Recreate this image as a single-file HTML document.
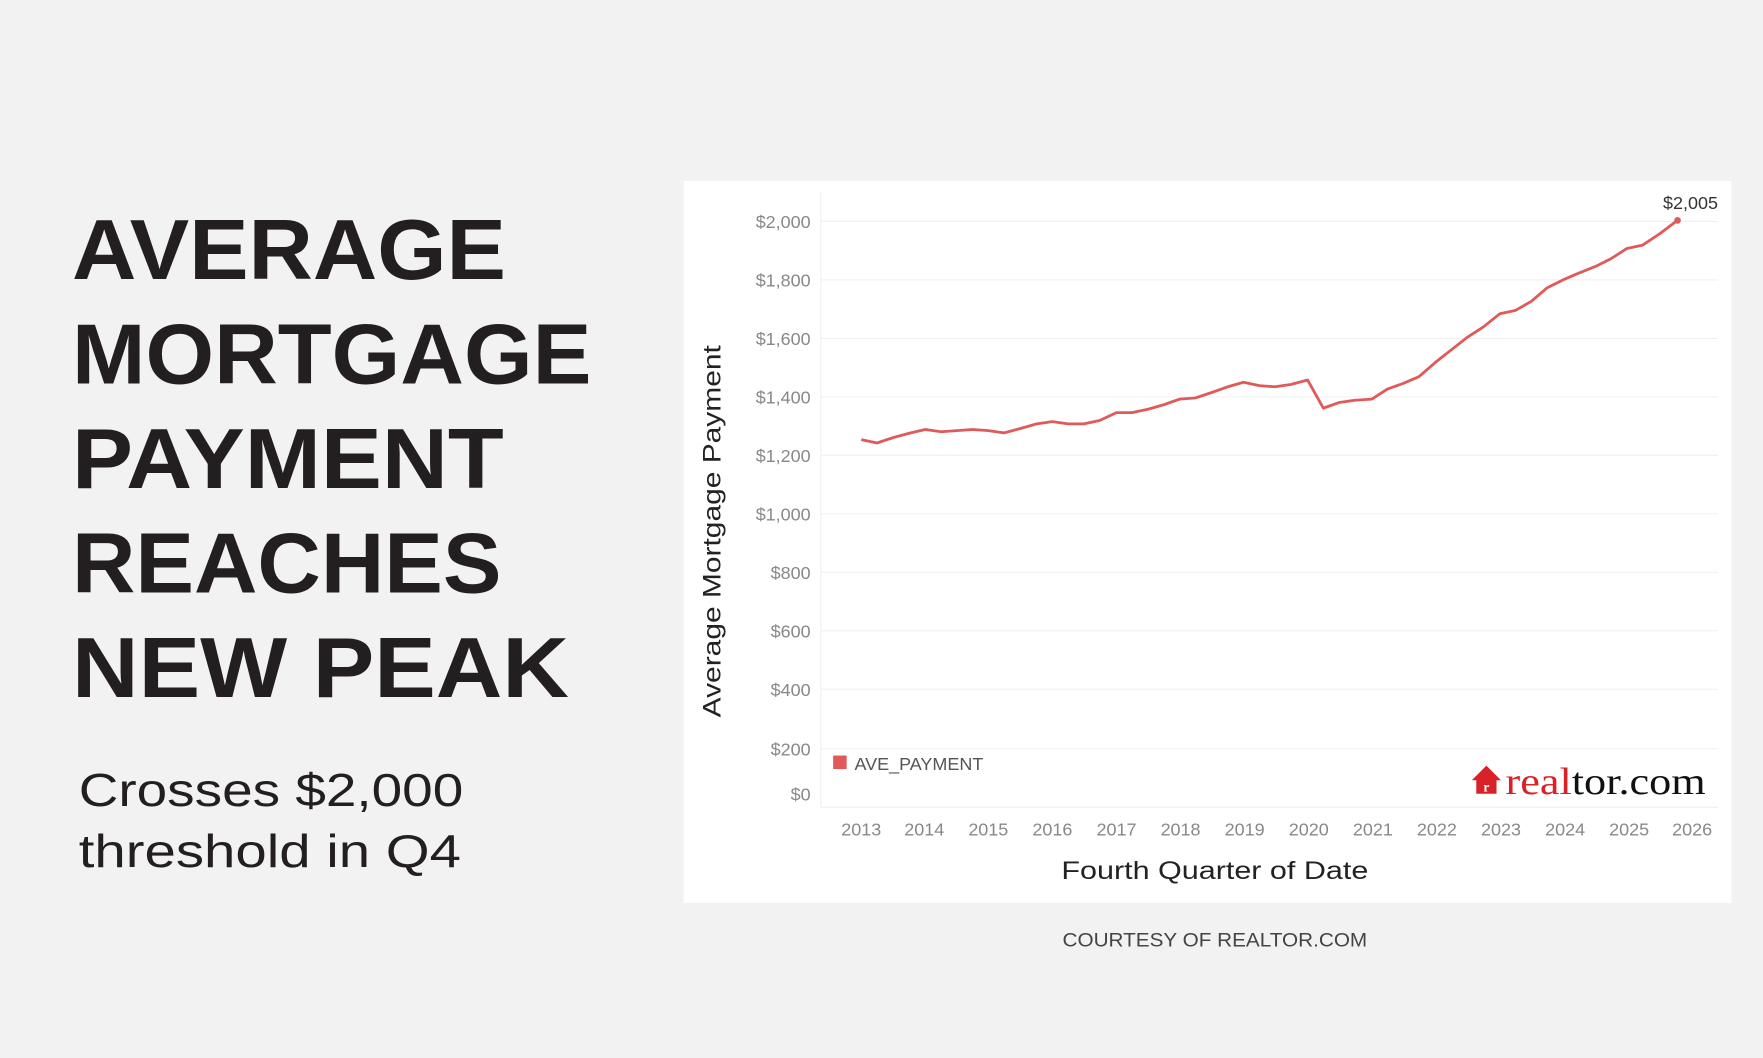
<!DOCTYPE html>
<html><head><style>
html,body{margin:0;padding:0;background:#f2f2f2;}
svg{display:block}
</style></head><body>
<svg width="1763" height="1058" viewBox="0 0 1568 941" xmlns="http://www.w3.org/2000/svg">
<rect width="1568" height="941" fill="#f2f2f2"/>
<g font-family="Liberation Sans, sans-serif" font-weight="bold" font-size="76" fill="#231f20">
<text x="64" y="248" textLength="386" lengthAdjust="spacingAndGlyphs">AVERAGE</text>
<text x="64" y="341" textLength="462" lengthAdjust="spacingAndGlyphs">MORTGAGE</text>
<text x="64" y="434" textLength="384" lengthAdjust="spacingAndGlyphs">PAYMENT</text>
<text x="64" y="527" textLength="382" lengthAdjust="spacingAndGlyphs">REACHES</text>
<text x="64" y="620" textLength="442" lengthAdjust="spacingAndGlyphs">NEW PEAK</text>
</g>
<g font-family="Liberation Sans, sans-serif" font-size="41" fill="#231f20">
<text x="70" y="717" textLength="342" lengthAdjust="spacingAndGlyphs">Crosses $2,000</text>
<text x="70" y="771" textLength="340" lengthAdjust="spacingAndGlyphs">threshold in Q4</text>
</g>
<rect x="608" y="161" width="932" height="642" fill="#fff"/>
<g stroke="#f0f0f0" stroke-width="1">
<line x1="730" x2="1528" y1="197" y2="197"/><line x1="730" x2="1528" y1="249" y2="249"/>
<line x1="730" x2="1528" y1="301" y2="301"/><line x1="730" x2="1528" y1="353" y2="353"/>
<line x1="730" x2="1528" y1="405" y2="405"/><line x1="730" x2="1528" y1="457" y2="457"/>
<line x1="730" x2="1528" y1="509" y2="509"/><line x1="730" x2="1528" y1="561" y2="561"/>
<line x1="730" x2="1528" y1="613" y2="613"/><line x1="730" x2="1528" y1="666" y2="666"/>
<line x1="730" x2="1528" y1="718" y2="718"/>
<line x1="730" x2="730" y1="170" y2="718"/>
</g>
<g font-family="Liberation Sans, sans-serif" font-size="16" fill="#888" text-anchor="end">
<text x="721" y="203">$2,000</text><text x="721" y="255">$1,800</text><text x="721" y="307">$1,600</text>
<text x="721" y="359">$1,400</text><text x="721" y="411">$1,200</text><text x="721" y="463">$1,000</text>
<text x="721" y="515">$800</text><text x="721" y="567">$600</text><text x="721" y="619">$400</text>
<text x="721" y="672">$200</text><text x="721" y="712">$0</text>
</g>
<g font-family="Liberation Sans, sans-serif" font-size="16" fill="#888" text-anchor="middle">
<text x="766" y="743">2013</text><text x="822" y="743">2014</text><text x="879" y="743">2015</text>
<text x="936" y="743">2016</text><text x="993" y="743">2017</text><text x="1050" y="743">2018</text>
<text x="1107" y="743">2019</text><text x="1164" y="743">2020</text><text x="1221" y="743">2021</text>
<text x="1278" y="743">2022</text><text x="1335" y="743">2023</text><text x="1392" y="743">2024</text>
<text x="1449" y="743">2025</text><text x="1505" y="743">2026</text>
</g>
<text x="944" y="782" font-family="Liberation Sans, sans-serif" font-size="22" fill="#222" textLength="273" lengthAdjust="spacingAndGlyphs">Fourth Quarter of Date</text>
<text transform="translate(641,638) rotate(-90)" font-family="Liberation Sans, sans-serif" font-size="22" fill="#222" textLength="331" lengthAdjust="spacingAndGlyphs">Average Mortgage Payment</text>
<polyline fill="none" stroke="#e05a5a" stroke-width="2.5" stroke-linejoin="round" points="766,391 780,394 795,389 810,385 823,382 837,384 851,383 865,382 879,383 893,385 908,381 922,377 936,375 950,377 964,377 978,374 993,367 1007,367 1021,364 1035,360 1049,355 1063,354 1078,349 1092,344 1106,340 1120,343 1134,344 1148,342 1163,338 1177,363 1191,358 1205,356 1220,355 1234,346 1248,341 1262,335 1277,322 1291,311 1305,300 1319,291 1334,279 1348,276 1362,268 1376,256 1390,249 1404,243 1419,237 1433,230 1447,221 1461,218 1476,208 1492,196"/>
<circle cx="1492" cy="196" r="3" fill="#e05a5a"/>
<text x="1528" y="186" font-family="Liberation Sans, sans-serif" font-size="16" fill="#333" text-anchor="end">$2,005</text>
<rect x="741" y="672" width="12" height="12" fill="#e05a5a"/>
<text x="760" y="685" font-family="Liberation Sans, sans-serif" font-size="16" fill="#555">AVE_PAYMENT</text>
<g>
<path d="M1309 694 L1322 681 L1335 694 L1331 694 L1331 706 L1313 706 L1313 694 Z" fill="#d92228"/>
<text x="1322" y="704" font-family="Liberation Serif, serif" font-weight="bold" font-size="12" fill="#fff" text-anchor="middle">r</text>
<text x="1339" y="706" font-family="Liberation Serif, serif" font-size="34" fill="#d92228" textLength="178" lengthAdjust="spacingAndGlyphs">real<tspan fill="#111">tor.com</tspan></text>
</g>
<text x="945" y="842" font-family="Liberation Sans, sans-serif" font-size="17" fill="#444" textLength="271" lengthAdjust="spacingAndGlyphs">COURTESY OF REALTOR.COM</text>
</svg>
</body></html>
